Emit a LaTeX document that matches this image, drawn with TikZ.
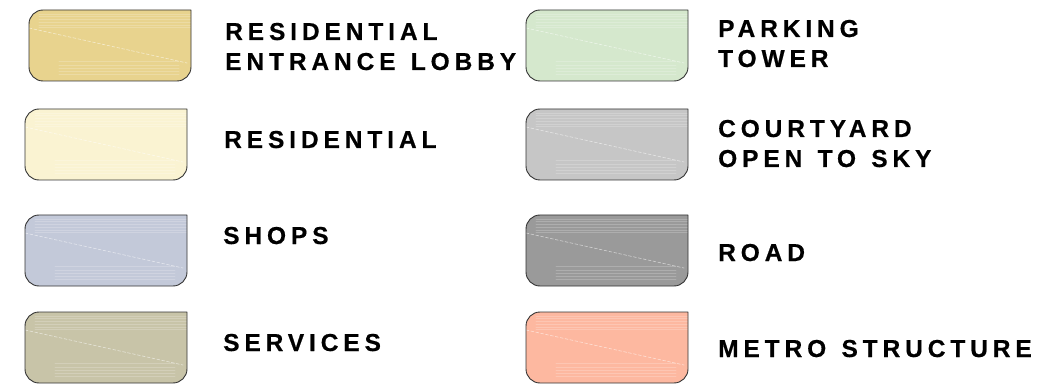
\documentclass[tikz,border=0pt]{standalone}
\usepackage{fontspec}
\setmainfont{Liberation Sans}
\newfontfamily\legendfont[LetterSpace=20, WordSpace=1.3, BoldFeatures={FakeBold=0.5}]{Liberation Sans}
\usetikzlibrary{calc}

\definecolor{lobbycol}{RGB}{232,211,142}
\definecolor{resicol}{RGB}{250,243,210}
\definecolor{shopcol}{RGB}{195,201,217}
\definecolor{servcol}{RGB}{200,196,168}
\definecolor{parkcol}{RGB}{213,232,205}
\definecolor{courtcol}{RGB}{198,198,198}
\definecolor{roadcol}{RGB}{154,154,154}
\definecolor{metrocol}{RGB}{253,184,160}

% swatch outline, top right corner sharp (y axis points down)
\newcommand\swatchshape[2]{(#1+162,#2) -- (#1+14,#2) arc[start angle=270, end angle=180, radius=14]
  -- (#1,#2+57) arc[start angle=180, end angle=90, radius=14]
  -- (#1+148,#2+71) arc[start angle=90, end angle=0, radius=14] -- cycle}

\tikzset{
  legendtext/.style={anchor=base west, inner sep=0pt, align=left,
    font=\legendfont\bfseries\fontsize{24.5}{30}\selectfont},
  swatchline/.style={draw=black!80, line width=0.9pt},
  streak/.style={white, opacity=0.2, line width=0.8pt},
}

\begin{document}
\begin{tikzpicture}[line cap=round,line join=round,x=1pt,y=-1pt]
\useasboundingbox (0,0) rectangle (1053,385);

% swatches: top left corner and colour
\foreach \xa/\ya/\col in {29/10/lobbycol, 25/109/resicol, 25/215/shopcol, 25/312/servcol,
                          526/10/parkcol, 526/109/courtcol, 526/215/roadcol, 526/312/metrocol}{
  \fill[\col] \swatchshape{\xa}{\ya};
  \begin{scope}
    \clip \swatchshape{\xa}{\ya};
    \foreach \s in {4,6,9,12,15,17}
      \draw[streak] (\xa+10,\ya+\s) -- (\xa+162,\ya+\s);
    \foreach \s in {51,55,58,61,64}
      \draw[streak] (\xa+30,\ya+\s) -- (\xa+150,\ya+\s);
    \draw[white, opacity=0.55, dash pattern=on 3pt off 2pt, line width=0.6pt] (\xa,\ya+18) -- (\xa+158,\ya+53);
  \end{scope}
  \draw[swatchline] \swatchshape{\xa}{\ya};
}

% labels (base = last line)
\node[legendtext] (lobby) at (225, 70) {RESIDENTIAL\\ENTRANCE LOBBY};
\node[legendtext] (resi)  at (224,148) {RESIDENTIAL};
\node[legendtext] (shops) at (223,244) {SHOPS};
\node[legendtext] (serv)  at (223,351) {SERVICES};

\node[legendtext] (park)  at (718, 67) {PARKING\\TOWER};
\node[legendtext] (court) at (718,167) {COURTYARD\\OPEN TO SKY};
\node[legendtext] (road)  at (718,261) {ROAD};
\node[legendtext] (metro) at (718,357) {METRO STRUCTURE};

\end{tikzpicture}
\end{document}
